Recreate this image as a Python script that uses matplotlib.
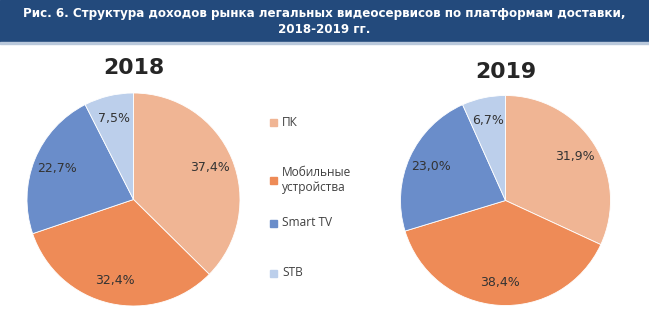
import numpy as np
from matplotlib import pyplot as plt
from matplotlib.patches import Rectangle

# data
cats = ['ПК', 'Мобильные\nустройства', 'Smart TV', 'STB']
share_2018 = [37.4, 32.4, 22.7, 7.5]
share_2019 = [31.9, 38.4, 23.0, 6.7]
colors = ['#F0B594', '#EE8B57', '#6A8DCA', '#BCCFEB']
title = 'Рис. 6. Структура доходов рынка легальных видеосервисов по платформам доставки,\n2018-2019 гг.'

W, H = 649, 327
fig = plt.figure(figsize=(W/100, H/100), dpi=100)

def px(x, y, w, h):
    # pixel box (top-left origin) -> figure fraction
    return [x/W, 1-(y+h)/H, w/W, h/H]

# banner
fig.patches.append(Rectangle((0, 1-42/H), 1, 42/H, transform=fig.transFigure, color='#234A7C', zorder=0))
fig.patches.append(Rectangle((0, 1-44/H), 1, 2/H, transform=fig.transFigure, color='#B9C8DB', zorder=0))
fig.text(0.5, 1-21.5/H, title, ha='center', va='center', color='white',
         fontsize=8.6, fontweight='bold', linespacing=1.35, family='DejaVu Sans')

def fmt(v):
    return ('%.1f' % v).replace('.', ',') + '%'

def draw_pie(box, vals, year, ty):
    ax = fig.add_axes(px(*box))
    ax.pie(vals, colors=colors, startangle=90, counterclock=False,
           labels=[fmt(v) for v in vals], labeldistance=0.78,
           textprops=dict(fontsize=9, color='#333333', ha='center', va='center'),
           wedgeprops=dict(edgecolor='white', linewidth=0.6))
    ax.set_xlim(-1, 1); ax.set_ylim(-1, 1)
    ax.set_aspect('equal')
    ax.axis('off')
    cx = (box[0] + box[2]/2)/W
    fig.text(cx, 1-ty/H, year, ha='center', va='center', fontsize=15.8,
             fontweight='bold', color='#262626')

draw_pie((27, 93, 213, 213), share_2018, '2018', 68)
draw_pie((400.5, 95.5, 210, 210), share_2019, '2019', 71.5)

# legend
leg_y = [122, 180.5, 223, 273]
for c, lab, y in zip(colors, cats, leg_y):
    fig.patches.append(Rectangle((270/W, 1-(y+3.5)/H), 7/W, 7/H, transform=fig.transFigure, color=c))
    fig.text(282/W, 1-y/H, lab, ha='left', va='center', fontsize=8.6,
             color='#404040', family='Open Sans', linespacing=1.2)

fig.savefig('out.png', dpi=100)
